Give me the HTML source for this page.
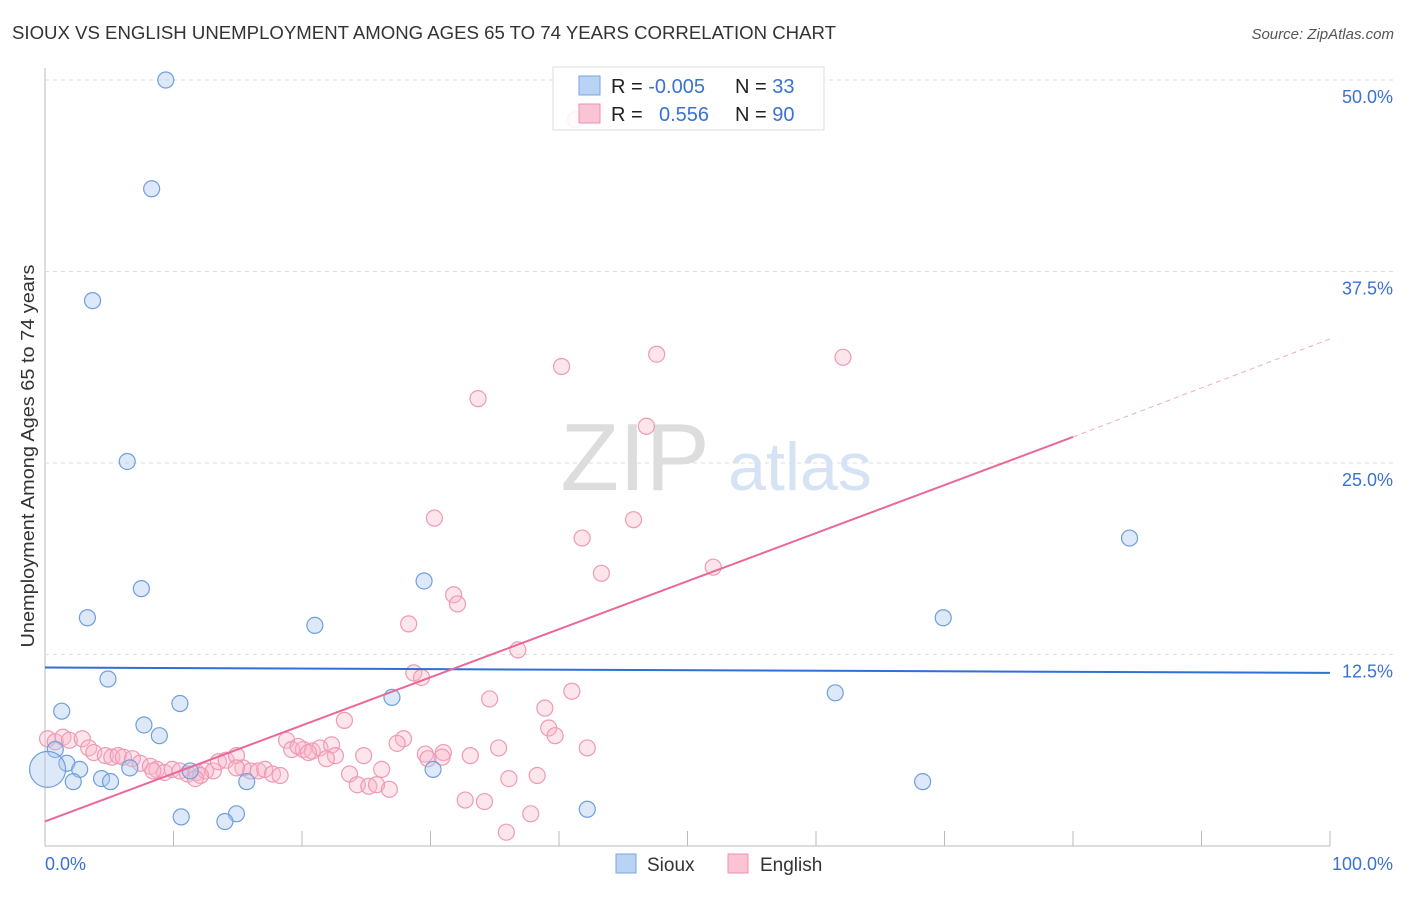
<!DOCTYPE html>
<html><head><meta charset="utf-8"><style>
body{margin:0;background:#fff;font-family:"Liberation Sans",sans-serif;}
svg text{font-family:"Liberation Sans",sans-serif;}
</style></head><body>
<svg id="chart" width="1406" height="892">
<text x="12" y="39" font-size="18" fill="#333" textLength="824" lengthAdjust="spacingAndGlyphs">SIOUX VS ENGLISH UNEMPLOYMENT AMONG AGES 65 TO 74 YEARS CORRELATION CHART</text>
<text x="1394" y="39" font-size="15" fill="#555" text-anchor="end" font-style="italic">Source: ZipAtlas.com</text>
<text x="635" y="490" font-size="96" fill="#ddd" text-anchor="middle" font-family="Liberation Serif">ZIP</text>
<text x="800" y="490" font-size="68" fill="#d5e3f5" text-anchor="middle">atlas</text>
<text transform="translate(34,456) rotate(-90)" font-size="18" fill="#333" text-anchor="middle" textLength="383" lengthAdjust="spacingAndGlyphs">Unemployment Among Ages 65 to 74 years</text>
<g id="grid"></g><g id="pts"></g><g id="lines"></g>
<g>
<rect x="553" y="67" width="271" height="63" fill="#fff" fill-opacity="0.85" stroke="#ddd"/>
<rect x="579" y="76" width="21" height="19" fill="#b9d3f5" stroke="#7aa6e0"/>
<rect x="579" y="104" width="21" height="19" fill="#fbc4d4" stroke="#ee90ad"/>
<text x="611" y="93" font-size="20" fill="#222">R = <tspan fill="#3a72d0">-0.005</tspan></text>
<text x="735" y="93" font-size="20" fill="#222">N = <tspan fill="#3a72d0"> 33</tspan></text>
<text x="611" y="121" font-size="20" fill="#222">R = <tspan fill="#3a72d0" x="659">0.556</tspan></text>
<text x="735" y="121" font-size="20" fill="#222">N = <tspan fill="#3a72d0">90</tspan></text>
</g>
<g>
<rect x="616" y="854" width="20" height="19" fill="#b9d3f5" stroke="#7aa6e0"/>
<text x="647" y="871" font-size="19" fill="#333">Sioux</text>
<rect x="728" y="854" width="20" height="19" fill="#fbc4d4" stroke="#ee90ad"/>
<text x="760" y="871" font-size="19" fill="#333">English</text>
</g>
<text x="45" y="870" font-size="18" fill="#3a72d0">0.0%</text>
<text x="1393" y="870" font-size="18" fill="#3a72d0" text-anchor="end">100.0%</text>
</svg>
<script>
const yTicks=[12.5,25,37.5,50];
const yTickLabels=["12.5%","25.0%","37.5%","50.0%"];
const xTicks=[10,20,30,40,50,60,70,80,90,100];
const siouxX=[9.4,8.3,3.7,6.4,7.5,3.3,21,29.5,4.9,1.3,10.5,27,7.7,8.9,0.8,1.7,2.7,6.6,11.3,2.2,4.4,5.1,15.7,30.2,10.6,14.9,14,42.2,61.5,69.9,84.4,68.3,0.2];
const siouxY=[50,42.9,35.6,25.1,16.8,14.9,14.4,17.3,10.9,8.8,9.3,9.7,7.9,7.2,6.3,5.4,5,5.1,4.9,4.2,4.4,4.2,4.2,5,1.9,2.1,1.6,2.4,10,14.9,20.1,4.2,5];
const engX=[41.3,47.6,62.1,40.2,33.7,46.8,30.3,45.8,41.8,43.3,52,31.8,32.1,28.3,36.8,28.7,29.3,41,34.6,38.9,23.3,39.2,39.7,42.2,27.9,27.4,18.8,19.2,20.1,20.8,21.4,22.3,19.7,20.5,29.6,31,30.9,33.1,35.3,29.8,22.6,24.8,21.9,23.7,26.2,24.3,25.2,25.8,26.8,32.7,34.2,36.1,38.3,37.8,35.9,0.2,0.8,1.4,1.9,2.9,3.4,3.8,4.7,5.2,5.7,6.1,6.8,7.4,8.2,8.7,9.3,9.9,10.5,11.1,11.8,12.5,13.1,13.5,14.1,14.9,15.4,16,16.6,17.1,17.7,18.3,14.9,12.1,11.7,8.4];
const engY=[47.4,32.1,31.9,31.3,29.2,27.4,21.4,21.3,20.1,17.8,18.2,16.4,15.8,14.5,12.8,11.3,11,10.1,9.6,9,8.2,7.7,7.2,6.4,7,6.7,6.9,6.3,6.3,6.2,6.4,6.6,6.5,6.1,6,6.1,5.8,5.9,6.4,5.7,5.9,5.9,5.7,4.7,5,4,3.9,4,3.7,3.0,2.9,4.4,4.6,2.1,0.9,7.0,6.8,7.1,6.9,7.0,6.4,6.1,5.9,5.8,5.9,5.8,5.7,5.4,5.2,5.0,4.8,5.0,4.9,4.7,4.8,4.9,4.9,5.5,5.6,5.9,5.1,4.9,4.9,5.0,4.7,4.6,5.1,4.6,4.4,4.9];
const siouxLine=[11.65,11.3];
const engLine=[1.6,26.7,33.1];
const X=v=>45+v*12.85, Y=v=>846-v*15.32;
const NS="http://www.w3.org/2000/svg";
function mk(p,t,a){const e=document.createElementNS(NS,t);for(const k in a)e.setAttribute(k,a[k]);p.appendChild(e);return e;}
const g=document.getElementById('grid');
const ax=mk(g,'line',{x1:45,y1:68,x2:45,y2:846,stroke:'#bbb'});


const bx=mk(g,'line',{x1:45,y1:846,x2:1330,y2:846,stroke:'#bbb'});


yTicks.forEach((t,i)=>{
 const l=mk(g,'line',{x1:45,y1:Y(t),x2:1395,y2:Y(t),stroke:'#ddd','stroke-dasharray':'4,4'});
 
 
 const tx=mk(g,'text',{x:1393,y:Y(t)+23,'font-size':18,fill:'#3a72d0','text-anchor':'end'});
 tx.textContent=yTickLabels[i];
 
 
});
xTicks.forEach(t=>{
 const l=mk(g,'line',{x1:X(t),y1:831,x2:X(t),y2:846,stroke:'#bbb'});
 
 
});
const p=document.getElementById('pts');
engX.forEach((x,i)=>{
 const c=mk(p,'circle',{cx:X(x),cy:Y(engY[i]),r:8,fill:'rgba(248,180,200,0.35)',stroke:'#ee9ab5','stroke-width':1.2});
 
 
});
siouxX.forEach((x,i)=>{
 const c=mk(p,'circle',{cx:X(x),cy:Y(siouxY[i]),r:i==siouxX.length-1?18:8,fill:'rgba(170,200,240,0.4)',stroke:'#6f9fdc','stroke-width':1.2});
 
 
});
const L=document.getElementById('lines');
const sl=mk(L,'line',{x1:X(0),y1:Y(siouxLine[0]),x2:X(100),y2:Y(siouxLine[1]),stroke:'#2f6fd6','stroke-width':2});


const el=mk(L,'line',{x1:X(0),y1:Y(engLine[0]),x2:X(80),y2:Y(engLine[1]),stroke:'#e8689a','stroke-width':2});


const ed=mk(L,'line',{x1:X(80),y1:Y(engLine[1]),x2:X(100),y2:Y(engLine[2]),stroke:'#eeaac2','stroke-width':1,'stroke-dasharray':'5,4'});


</script>
</body></html>
